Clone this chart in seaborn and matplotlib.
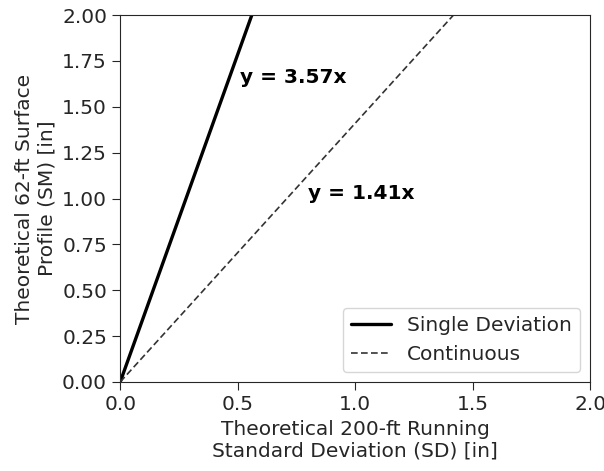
import matplotlib
matplotlib.use('Agg')
import matplotlib.pyplot as plt
import seaborn as sns
import pandas as pd

# slopes of the two theoretical relationships
x_sd = [0.0, 2.0]
slope_single = 3.57
slope_cont = 1.41

df = pd.DataFrame({
    'sd': x_sd + x_sd,
    'sm': [v * slope_single for v in x_sd] + [v * slope_cont for v in x_sd],
    'case': ['Single Deviation'] * 2 + ['Continuous'] * 2,
})

sns.set_style('ticks')
plt.rcParams['font.family'] = ['DejaVu Sans']
fs = 14.5

fig = plt.figure(figsize=(6.04, 4.71), dpi=100)
ax = fig.add_axes([0.199, 0.189, 0.778, 0.779])

sns.lineplot(data=df[df.case == 'Single Deviation'], x='sd', y='sm', color='black',
             lw=2.4, label='Single Deviation', ax=ax)
sns.lineplot(data=df[df.case == 'Continuous'], x='sd', y='sm', color='#333333',
             lw=1.2, ls=(0, (4, 2)), label='Continuous', ax=ax)

ax.text(0.51, 1.63, 'y = 3.57x', fontweight='bold', fontsize=fs, color='black')
ax.text(0.8, 1.0, 'y = 1.41x', fontweight='bold', fontsize=fs, color='black')

ax.set_xlim(0, 2)
ax.set_ylim(0, 2)
ax.set_xticks([0, 0.5, 1.0, 1.5, 2.0])
ax.set_yticks([0, 0.25, 0.5, 0.75, 1.0, 1.25, 1.5, 1.75, 2.0])
ax.set_yticklabels([f'{v:.2f}' for v in ax.get_yticks()])
ax.tick_params(labelsize=fs, length=6)
ax.set_xlabel('Theoretical 200-ft Running\nStandard Deviation (SD) [in]', fontsize=fs)
ax.set_ylabel('Theoretical 62-ft Surface\nProfile (SM) [in]', fontsize=fs)
ax.legend(loc='lower right', fontsize=fs)

fig.savefig('out.png', dpi=100)
